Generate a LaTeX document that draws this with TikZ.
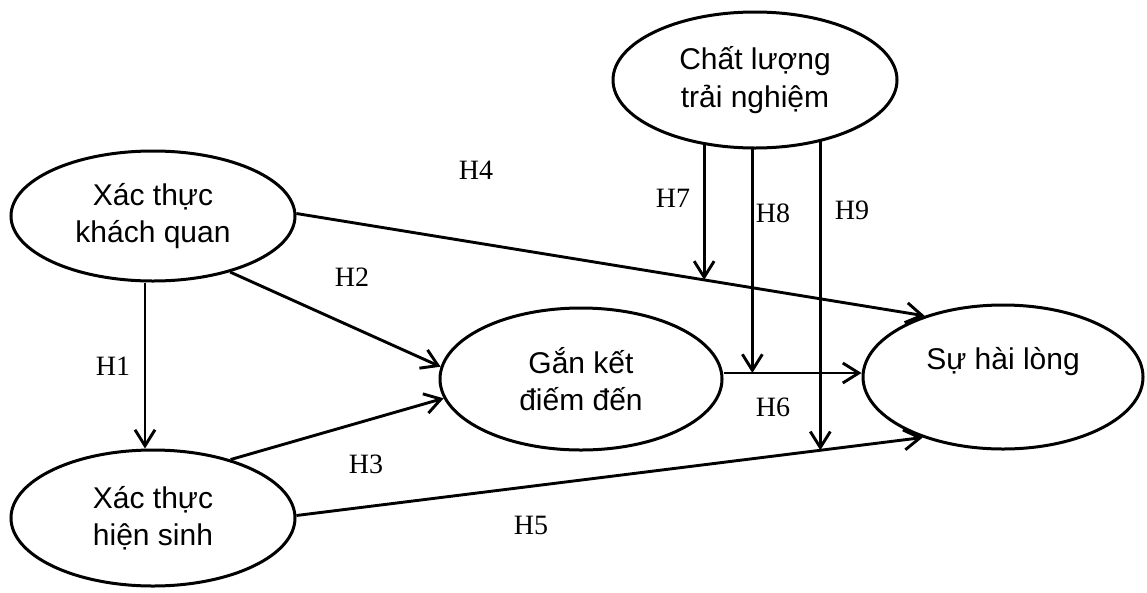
\documentclass[tikz,border=0pt]{standalone}
\usepackage{fontspec}
\setmainfont{Liberation Serif}
\newfontfamily\arialf{Liberation Sans}
\usetikzlibrary{arrows.meta,shapes.geometric,calc,backgrounds}
\begin{document}
\begin{tikzpicture}[x=1pt,y=-1pt,
  ell/.style={ellipse, draw, line width=3pt, fill=white, inner sep=0pt, align=center,
    font=\arialf\fontsize{30}{37.5}\selectfont},
  hl/.style={font=\fontsize{28}{30}\selectfont, inner sep=0pt},
  arr/.style={line width=2.9pt, -{Straight Barb[length=16pt,width=20pt]}}]
\useasboundingbox (0,0) rectangle (1147,592);
% nodes
\node[ell, minimum width=284pt, minimum height=130pt] (xtkq) at (153,216) {Xác thực\\khách quan};
\node[ell, minimum width=284pt, minimum height=136pt] (xths) at (153,518) {Xác thực\\hiện sinh};
\node[ell, minimum width=282pt, minimum height=142pt] (gk) at (581,379) {Gắn kết\\điếm đến};
\node[ell, minimum width=280pt, minimum height=144pt] (shl) at (1003,377) {Sự hài lòng\\\mbox{}};
\node[ell, minimum width=284pt, minimum height=136pt] (cl) at (755,80) {Chất lượng\\trải nghiệm};
% connectors
\draw[arr] ([xshift=-8pt]xtkq.south) -- ([xshift=-8pt]xths.north);
\draw[arr] (xtkq.-36.7) -- (gk.175.2);
\draw[arr] (xths.37.7) -- (gk.-172.4);
\draw[arr] (xtkq.1.6) -- (shl.142.6);
\draw[arr] (xths.1.2) -- (shl.-143.1);
\draw[arr] ([yshift=6pt]gk.east) -- ([yshift=4pt]shl.west);
\coordinate (t7) at ($(xtkq.1.6)!0.649!(shl.142.6)$);
\coordinate (t8) at ($([yshift=6pt]gk.east)!0.209!([yshift=4pt]shl.west)$);
\coordinate (t9) at ($(xths.1.2)!0.8365!(shl.-143.1)$);
\begin{scope}[on background layer]
\fill[white] (0,0) rectangle (1147,592);
\draw[arr] (t7 |- cl.center) -- (t7);
\draw[arr] (t8 |- cl.center) -- (t8);
\draw[arr] (t9 |- cl.center) -- (t9);
\end{scope}
% labels
\node[hl] (l1) at (113,366) {H1};
\node[hl] (l2) at (352,277) {H2};
\node[hl] (l3) at (366,464) {H3};
\node[hl] (l4) at (476,170) {H4};
\node[hl] (l5) at (531,525) {H5};
\node[hl] (l6) at (773,407) {H6};
\node[hl] (l7) at (673,198) {H7};
\node[hl] (l8) at (773,213) {H8};
\node[hl] (l9) at (852,210) {H9};
\end{tikzpicture}
\end{document}
